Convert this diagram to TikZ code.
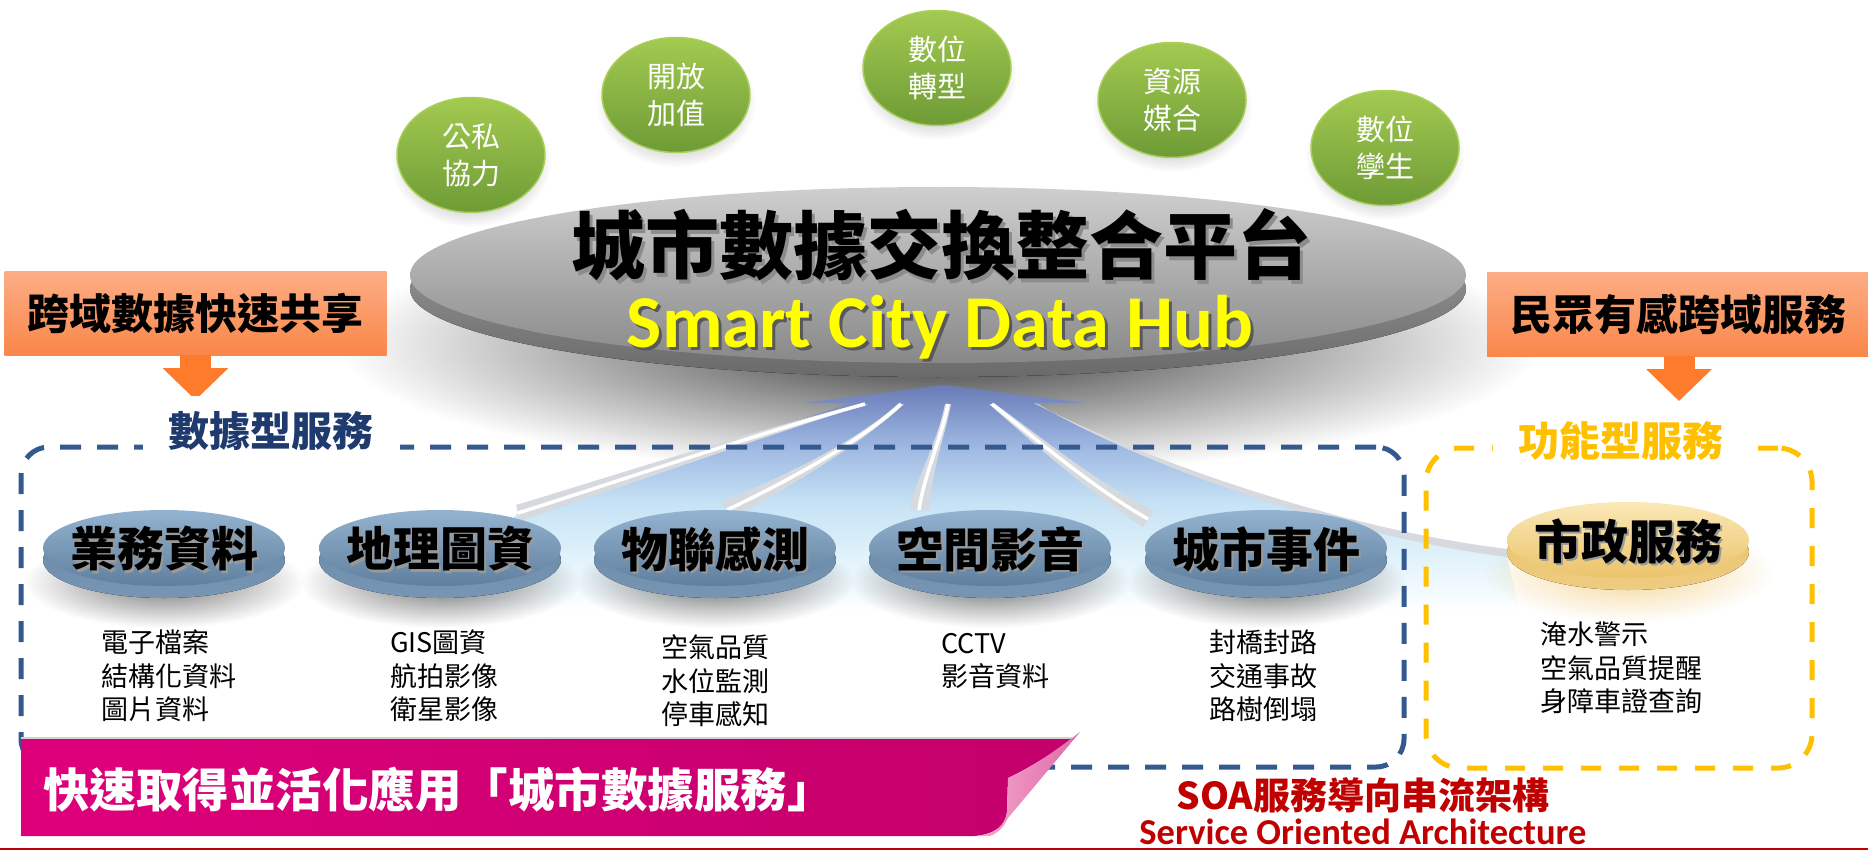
\documentclass[tikz,border=0pt]{standalone}
\usepackage{fontspec}
\newfontfamily\cjk{Noto Sans CJK TC}
\newfontfamily\calib{Carlito}
\usetikzlibrary{shapes.geometric, fadings, arrows.meta, calc}

\definecolor{gA}{HTML}{A3CA50}
\definecolor{gB}{HTML}{6E9B36}
\definecolor{gE}{HTML}{A9CF5A}
\definecolor{orA}{HTML}{FDAD85}
\definecolor{orB}{HTML}{F9874A}
\definecolor{orArrow}{HTML}{FD7B2A}
\definecolor{navy}{HTML}{1F3A6E}
\definecolor{dashblue}{HTML}{34598E}
\definecolor{dashyel}{HTML}{FFC000}
\definecolor{bdA}{HTML}{93B3D0}
\definecolor{bdB}{HTML}{5F7F9E}
\definecolor{bdS}{HTML}{7896B4}
\definecolor{bdS2}{HTML}{6787A6}
\definecolor{ydA}{HTML}{FAE8B6}
\definecolor{ydB}{HTML}{EBC36A}
\definecolor{ydS}{HTML}{EDCB80}
\definecolor{ydGlow}{HTML}{EDB43C}
\definecolor{mag}{HTML}{DE007B}
\definecolor{magB}{HTML}{C3006B}
\definecolor{flapA}{HTML}{F4A8CE}
\definecolor{flapB}{HTML}{E06AA8}
\definecolor{soared}{HTML}{C00000}
\definecolor{hubA}{HTML}{CFCFCF}
\definecolor{hubB}{HTML}{888888}
\definecolor{hubS1}{HTML}{A5A5A5}
\definecolor{hubS2}{HTML}{6A6A6A}
\definecolor{fan0}{HTML}{6A7BB5}
\definecolor{fan1}{HTML}{8096CB}
\definecolor{fan2}{HTML}{A0BAE3}
\definecolor{fan3}{HTML}{C6E2F5}
\definecolor{fan4}{HTML}{E3F4FB}
\definecolor{hubyellow}{HTML}{FFFF00}
\definecolor{streakgray}{HTML}{D6D9DE}

\pgfdeclareverticalshading{fanshade}{100bp}{color(0bp)=(white); color(25bp)=(white); color(36bp)=(fan4); color(49bp)=(fan3); color(61bp)=(fan2); color(69bp)=(fan1); color(75bp)=(fan0); color(100bp)=(fan0)}
\tikzfading[name=softfade, inner color=transparent!45, outer color=transparent!100]
\tikzfading[name=hubfade, inner color=transparent!20, outer color=transparent!100]

\begin{document}
\begin{tikzpicture}[x=1pt, y=-1pt,
  every node/.style={inner sep=0pt, outer sep=0pt},
  greenball/.style={ellipse, minimum width=148, minimum height=115, top color=gA, bottom color=gB, draw=gE, line width=1.5, text=white, align=center, font=\cjk\fontsize{29}{37}\selectfont},
  orangebox/.style={rectangle, minimum width=382, minimum height=83, top color=orA, bottom color=orB, font=\cjk\bfseries\fontsize{42}{46}\selectfont},
  orangearrow/.style={draw=orArrow, line width=31, line cap=butt, -{Triangle[width=64pt, length=32pt]}},
  blueframe/.style={draw=dashblue, line width=5, dash pattern=on 21pt off 16pt, rounded corners=28, minimum width=1383, minimum height=320},
  yelframe/.style={draw=dashyel, line width=5, dash pattern=on 20pt off 18pt, rounded corners=34, minimum width=386, minimum height=320},
  framelabel/.style={fill=white, inner xsep=26, inner ysep=15, font=\cjk\bfseries\fontsize{41}{45}\selectfont},
  bluedisk/.style={ellipse, minimum width=242, minimum height=76, top color=bdA, bottom color=bdB},
  yeldisk/.style={ellipse, minimum width=242, minimum height=76, top color=ydA, bottom color=ydB},
  disklabel/.style={font=\cjk\bfseries\fontsize{47}{50}\selectfont},
  itemlist/.style={anchor=north west, align=left, font=\cjk\fontsize{27}{33.5}\selectfont},
  streak/.style={fill=streakgray},
  streakhi/.style={draw=white, line width=3.5}
]
\useasboundingbox (0,0) rectangle (1868,850);
\fill[white] (0,0) rectangle (1868,850);

% hub shadow
\fill[black, path fading=hubfade] (940,345) ellipse [x radius=600, y radius=130];

% fan of data flows into the hub
\path[shading=fanshade] (944,385) -- (1085,403) -- (1034,403) .. controls (1130,455) and (1330,530) .. (1506,553) -- (1520,612) -- (430,612) -- (518,513) .. controls (600,488) and (760,432) .. (852,403) -- (804,403) -- cycle;
% streaks
\fill[streak] (862,404) .. controls (760,428) and (600,480) .. (516,505) -- (520,521) .. controls (602,494) and (764,436) .. (868,404) -- cycle;
\draw[streakhi] (865,404) .. controls (762,432) and (601,487) .. (518,513);
\fill[streak] (898,404) .. controls (858,440) and (786,476) .. (721,502) -- (733,518) .. controls (794,484) and (864,442) .. (904,404) -- cycle;
\draw[streakhi] (901,404) .. controls (861,441) and (790,480) .. (727,510);
\fill[streak] (945,404) .. controls (938,440) and (918,475) .. (909,510) -- (930,510) .. controls (930,475) and (944,440) .. (951,404) -- cycle;
\draw[streakhi] (948,404) .. controls (941,440) and (924,475) .. (919,510);
\fill[streak] (989,404) .. controls (1030,440) and (1085,490) .. (1143,527) -- (1154,511) .. controls (1095,482) and (1040,436) .. (995,404) -- cycle;
\draw[streakhi] (992,404) .. controls (1035,438) and (1090,486) .. (1148,519);
\fill[streak] (1034,403) .. controls (1130,453) and (1330,528) .. (1508,549) -- (1508,557) .. controls (1330,535) and (1130,459) .. (1038,404) -- cycle;

% hub disk
\fill[top color=hubS1, bottom color=hubS2] (938,289) ellipse [x radius=528, y radius=88];
\node[ellipse, minimum width=1056, minimum height=176, top color=hubA, bottom color=hubB] (hub) at (938,275) {};
\node[font=\cjk\bfseries\fontsize{74}{78}\selectfont, text=black!45] (hubZHs) at (944,249) {城市數據交換整合平台};
\node[font=\cjk\bfseries\fontsize{74}{78}\selectfont] (hubZH) at (941,245) {城市數據交換整合平台};
\node[anchor=base, text=black!65, font=\calib\bfseries\fontsize{74.5}{78}\selectfont] (hubENs) at (943,350) {Smart City Data Hub};
\node[anchor=base, text=hubyellow, font=\calib\bfseries\fontsize{74.5}{78}\selectfont] (hubEN) at (940,347) {Smart City Data Hub};

% green balls
\foreach \cx/\cy/\nm/\txt in {471/155/g1/公私\\協力, 676/95/g2/開放\\加值, 937/68/g3/數位\\轉型, 1172/100/g4/資源\\媒合, 1385/148/g5/數位\\孿生}{
  \fill[black, path fading=softfade] (\cx,\cy+8) ellipse [x radius=80, y radius=64];
  \node[greenball] (\nm) at (\cx,\cy) {\txt};
}

% orange boxes and arrows
\node[orangebox] (lbox) at (195.5,313.5) {跨域數據快速共享};
\node[orangebox] (rbox) at (1678,314.5) {民眾有感跨域服務};
\coordinate (ltip) at (195.5,400);
\coordinate (rtip) at (1679,401);
\draw[orangearrow] (lbox.south) -- (ltip);
\draw[orangearrow] (rbox.south -| rtip) -- (rtip);

% dashed frames
\node[blueframe] (dbox) at (712.5,607) {};
\node[yelframe] (fbox) at (1619,608) {};
\node[framelabel, text=navy] (lblA) at (271,431) {數據型服務};
\node[framelabel, text=dashyel] (lblB) at (1621,441) {功能型服務};

% data service disks
\foreach \cx/\nm/\txt in {164/d1/業務資料, 440/d2/地理圖資, 715/d3/物聯感測, 990/d4/空間影音, 1266/d5/城市事件}{
  \fill[black, path fading=softfade] (\cx,582) ellipse [x radius=140, y radius=46];
  \fill[top color=bdS2, bottom color=bdS] (\cx,560) ellipse [x radius=121, y radius=38];
  \node[bluedisk] (\nm) at (\cx,548) {};
  \node[disklabel, text=black!40] (\nm-s) at (\cx+2.5,551.5) {\txt};
  \node[disklabel] (\nm-t) at (\cx,549) {\txt};
}
% function service disk
\fill[ydGlow, path fading=softfade] (1628,572) ellipse [x radius=145, y radius=50];
\fill[top color=ydB, bottom color=ydS] (1628,552) ellipse [x radius=121, y radius=38];
\node[yeldisk] (d6) at (1628,540) {};
\node[disklabel, text=black!40] (d6-s) at (1630.5,543.5) {市政服務};
\node[disklabel] (d6-t) at (1628,541) {市政服務};

% item lists
\node[itemlist] (l1) at (101,630) {電子檔案\\結構化資料\\圖片資料};
\node[itemlist] (l2) at (390,630) {GIS圖資\\航拍影像\\衛星影像};
\node[itemlist] (l3) at (661,635) {空氣品質\\水位監測\\停車感知};
\node[itemlist] (l4) at (941,633) {CCTV\\影音資料};
\node[itemlist] (l5) at (1209,630) {封橋封路\\交通事故\\路樹倒塌};
\node[itemlist] (l6) at (1540,622) {淹水警示\\空氣品質提醒\\身障車證查詢};

% magenta banner with page curl
\draw[gray!35, line width=2] (21,737.5) -- (1072,737.5);
\path[left color=mag, right color=magB] (21,739) -- (1074,739) .. controls (1045,758) and (1025,770) .. (1008,778) -- (1007,812) .. controls (1005,826) and (995,834) .. (975,836) -- (21,836) -- cycle;
\path[left color=flapA, right color=flapB] (1080,732) .. controls (1050,755) and (1030,768) .. (1008,778) -- (1007,812) .. controls (1005,826) and (995,834) .. (975,836) -- (990,836) .. controls (1000,832) and (1004,826) .. (1008,818) -- cycle;
\node[anchor=west, text=white, font=\cjk\bfseries\fontsize{46.5}{50}\selectfont] (btext) at (43,790) {快速取得並活化應用「城市數據服務」};

% SOA caption
\node[text=soared, font=\cjk\bfseries\fontsize{37}{40}\selectfont] (soa) at (1363,795) {SOA服務導向串流架構};
\node[anchor=base, text=soared, font=\calib\bfseries\fontsize{36.5}{40}\selectfont] (soaen) at (1363,844.5) {Service Oriented Architecture};
\draw[soared, line width=2] (0,849) -- (1868,849);
\end{tikzpicture}
\end{document}
